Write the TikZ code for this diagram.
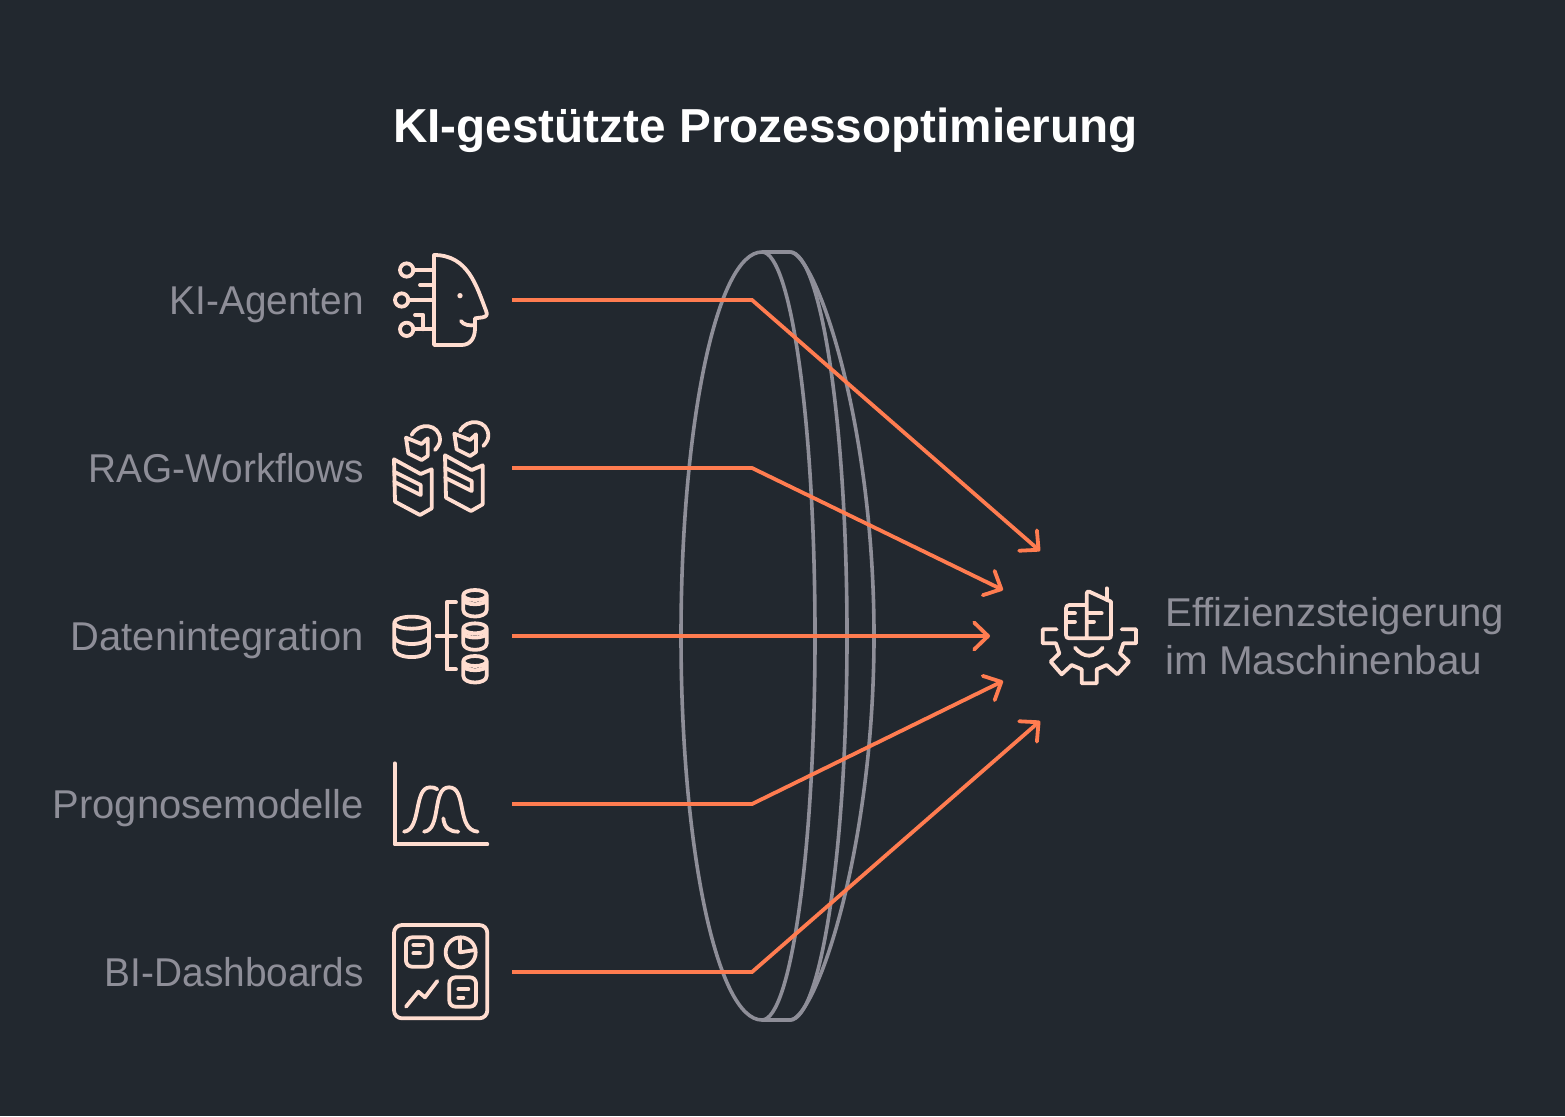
\documentclass[tikz,border=0pt]{standalone}
\usepackage{fontspec}
\usepackage{graphicx}
\setmainfont{Liberation Sans}
\usetikzlibrary{arrows.meta}
\definecolor{bgc}{HTML}{22282F}
\definecolor{iconc}{HTML}{FFDDD0}
\definecolor{orangec}{HTML}{FF7C50}
\definecolor{greyc}{HTML}{8E8E98}
\newcommand{\hfit}[2]{\scalebox{#1}[1]{#2}}
\tikzset{
  lbl/.style={text=greyc,font=\fontsize{40.2}{48}\selectfont,inner sep=0pt},
  ttl/.style={text=white,font=\fontsize{47.7}{54}\selectfont\bfseries,inner sep=0pt},
  ic/.style={draw=iconc,line width=3.8pt,line cap=round,line join=round},
  lens/.style={draw=greyc,line width=3.6pt},
  flow/.style={draw=orangec,line width=3.8pt,line join=miter,-{Straight Barb[round,length=14pt,width=27pt,line width=3.8pt]}}
}
\begin{document}
\begin{tikzpicture}[x=1pt,y=-1pt]
\useasboundingbox (0,0) rectangle (1565,1116);
\fill[bgc] (0,0) rectangle (1565,1116);
\node[ttl,anchor=base] (title) at (765.5,142) {KI-gestützte Prozessoptimierung};
\node[lbl,anchor=base east] (l1) at (364,314) {\hfit{0.965}{KI-Agenten}};
\node[lbl,anchor=base east] (l2) at (364,482) {\hfit{0.965}{RAG-Workflows}};
\node[lbl,anchor=base east] (l3) at (364,650) {\hfit{0.993}{Datenintegration}};
\node[lbl,anchor=base east] (l4) at (364,818) {\hfit{0.994}{Prognosemodelle}};
\node[lbl,anchor=base east] (l5) at (364,986) {\hfit{0.966}{BI-Dashboards}};
\node[lbl,anchor=base west] (r1) at (1165,626) {Effizienzsteigerung};
\node[lbl,anchor=base west] (r2) at (1165,674) {\hfit{1.006}{im Maschinenbau}};
% lens
\draw[lens] (762,252) .. controls (717,252) and (681,424) .. (681,636)
  .. controls (681,848) and (717,1020) .. (762,1020)
  .. controls (791,1020) and (815,848) .. (815,636)
  .. controls (815,424) and (791,252) .. (762,252) -- (790,252)
  .. controls (821,252) and (847,424) .. (847,636)
  .. controls (847,848) and (821,1020) .. (790,1020) -- (762,1020);
\draw[lens] (790,252) .. controls (815,252) and (874,420) .. (874,636)
  .. controls (874,852) and (815,1020) .. (790,1020);
% connectors
\coordinate (s1) at (512,300); \coordinate (b1) at (752,300); \coordinate (e1) at (1040,551);
\coordinate (s2) at (512,468); \coordinate (b2) at (752,468); \coordinate (e2) at (1003,590);
\coordinate (s3) at (512,636); \coordinate (e3) at (990,636);
\coordinate (s4) at (512,804); \coordinate (b4) at (752,804); \coordinate (e4) at (1003,681);
\coordinate (s5) at (512,972); \coordinate (b5) at (752,972); \coordinate (e5) at (1040,721);
\draw[flow] (s1) -- (b1) -- (e1);
\draw[flow] (s2) -- (b2) -- (e2);
\draw[flow] (s3) -- (e3);
\draw[flow] (s4) -- (b4) -- (e4);
\draw[flow] (s5) -- (b5) -- (e5);
% icon 1 and 2
\begin{scope}[shift={(380,240)},scale=1/3]
\draw[ic] (162,45) -- (162,315) -- (245,315) .. controls (270,315) and (285,295) .. (285,265) -- (285,235) -- (308,232) .. controls (322,230) and (322,222) .. (318,212) .. controls (290,140) and (265,45) .. (162,45) -- cycle;
\draw[ic] (243,243) .. controls (250,255) and (270,258) .. (285,255);
\fill[iconc] (240,167) circle (8);
\draw[ic] (80,90) circle (20) (65,180) circle (20) (80,268) circle (20);
\draw[ic] (100,90) -- (162,90) (120,135) -- (162,135) (85,180) -- (162,180) (100,268) -- (162,268) (105,225) -- (130,225) -- (130,268);
\foreach \dx/\dy/\ex/\ey in {0/0/0/0,153/-12/145/-12}{
\begin{scope}[shift={(\dx,\dy)}]
\draw[ic] (42,658) -- (122,702) -- (155,688) -- (155,805) -- (120,825) -- (45,785) -- cycle;
\draw[ic] (42,695) -- (122,735) -- (122,765) -- (42,725);
\end{scope}
\begin{scope}[shift={(\ex,\ey)}]
\draw[ic] (78,593) -- (125,612) -- (143,595) -- (143,648) -- (125,660) -- (85,640) -- cycle;
\draw[ic] (95,585) .. controls (115,545) and (180,550) .. (180,600) .. controls (180,612) and (172,622) .. (165,630);
\end{scope}}
\end{scope}
% icon 3
\begin{scope}[shift={(380,580)},scale=1/3]
\draw[ic] (43,128) arc[x radius=52,y radius=18,start angle=180,end angle=540]
  (43,128) -- (43,205) .. controls (43,240) and (147,240) .. (147,205) -- (147,128)
  (43,168) .. controls (43,200) and (147,200) .. (147,168);
\foreach \y in {0,100,198}{
\begin{scope}[shift={(0,\y)}]
\draw[ic] (250,45) arc[x radius=35,y radius=15,start angle=180,end angle=540]
  (250,45) -- (250,90) .. controls (250,116) and (320,116) .. (320,90) -- (320,45)
  (250,57) .. controls (250,78) and (320,78) .. (320,57);
\end{scope}
}
\draw[ic] (170,167) -- (228,167) (228,67) -- (200,67) -- (200,268) -- (228,268);
\end{scope}
% icon 4 and 5
\begin{scope}[shift={(380,750)},scale=1/3]
\draw[ic] (44,40) -- (44,283) -- (322,283);
\draw[ic] (72,245) .. controls (125,240) and (100,112) .. (150,112) .. controls (160,112) and (165,113) .. (172,118);
\draw[ic] (132,245) .. controls (185,240) and (155,112) .. (207,112) .. controls (262,112) and (228,240) .. (293,245);
\draw[ic] (190,205) .. controls (193,235) and (210,245) .. (235,245);
\draw[ic,rounded corners=8pt] (42,525) rectangle (322,805);
\draw[ic,rounded corners=6pt] (78,562) rectangle (155,650);
\draw[ic] (100,585) -- (130,585) (100,610) -- (120,610);
\draw[ic] (242,607) circle (45);
\draw[ic] (240,565) -- (240,607) -- (285,600);
\draw[ic] (78,770) -- (115,725) -- (135,742) -- (172,693);
\draw[ic,rounded corners=6pt] (208,682) rectangle (288,770);
\draw[ic] (235,718) -- (265,718) (235,743) -- (250,743);
\end{scope}
% icon 6
\begin{scope}[shift={(1030,580)},scale=1/3]
\draw[ic] (170,75) -- (118,75) .. controls (112,75) and (108,79) .. (108,85) -- (108,165) .. controls (108,172) and (112,175) .. (118,175) -- (235,175) .. controls (241,175) and (243,172) .. (243,165) -- (243,65) -- (178,35) .. controls (172,33) and (170,36) .. (170,42) -- (170,175);
\draw[ic] (230,25) -- (230,60);
\draw[ic] (112,100) -- (135,100) (112,125) -- (135,125) (172,100) -- (215,100) (172,125) -- (192,125);
\draw[ic] (135,203) .. controls (160,235) and (195,235) .. (218,203);
\draw[ic] (80,148) -- (38,148) -- (38,190) -- (78,190) -- (88,220) -- (62,245) -- (95,283) -- (125,255) -- (155,268) -- (155,310) -- (200,310) -- (200,268) -- (230,255) -- (262,283) -- (297,245) -- (270,220) -- (280,190) -- (318,190) -- (318,148) -- (275,148);
\end{scope}
\end{tikzpicture}
\end{document}
